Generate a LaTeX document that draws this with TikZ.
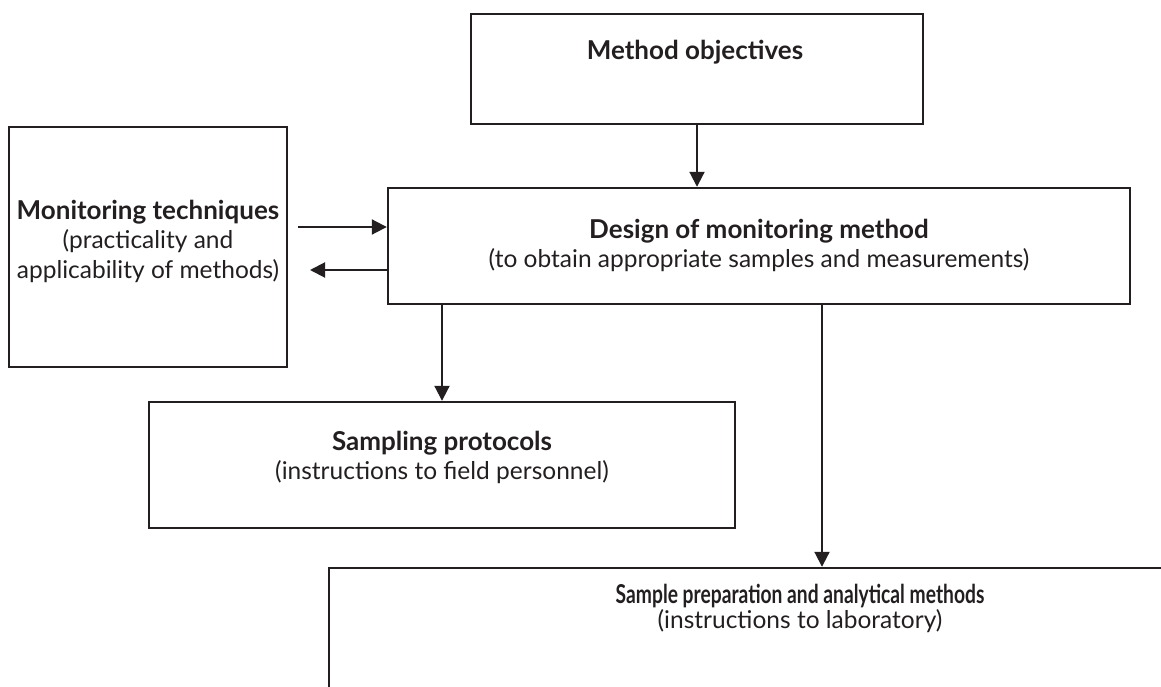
\documentclass[tikz,border=0pt]{standalone}
\usepackage{fontspec}
\setmainfont{Lato}
\usetikzlibrary{arrows.meta}
\definecolor{ink}{RGB}{35,31,32}
\newcommand{\boldline}[1]{{\fontsize{26}{29.5}\selectfont\bfseries #1}}
\begin{document}
\begin{tikzpicture}[x=1pt,y=-1pt,
  box/.style={draw=ink, line width=2.4pt, inner sep=0pt},
  txt/.style={text=ink, align=center, inner sep=0pt, font=\fontsize{24.5}{29.5}\selectfont},
  arr/.style={draw=ink, line width=2pt, -{Triangle[length=15pt,width=15pt]}}]
\useasboundingbox (0,0) rectangle (1161,687);
\clip (0,0) rectangle (1161,687);
\node[box, minimum width=452pt, minimum height=110pt] (mo) at (697,69) {};
\node[box, minimum width=278pt, minimum height=240pt] (mon) at (148,247) {};
\node[box, minimum width=742pt, minimum height=116pt] (des) at (759,246) {};
\node[box, minimum width=586pt, minimum height=126pt] (samp) at (442,465) {};
\node[box, minimum width=942pt, minimum height=232pt] (prep) at (800,684) {};
\node[txt] (motxt) at (695,52) {\boldline{Method objectives}};
\node[txt] (montxt) at (148,241) {\boldline{Monitoring techniques}\\(practicality and\\applicability of methods)};
\node[txt] (destxt) at (759,245.5) {\boldline{Design of monitoring method}\\(to obtain appropriate samples and measurements)};
\node[txt] (samptxt) at (442,457.5) {\boldline{Sampling protocols}\\(instructions to field personnel)};
\node[txt, font=\fontsize{24.5}{25}\selectfont] (preptxt) at (800,608) {\scalebox{0.74}[1]{\boldline{Sample preparation and analytical methods}}\\(instructions to laboratory)};
\coordinate (a1) at (298,227);
\coordinate (a2) at (310,270);
\draw[arr] (mo.south) -- (mo.south |- des.north);
\draw[arr] (a1) -- (a1 -| des.west);
\draw[arr] (a2 -| des.west) -- (a2);
\draw[arr] (samp.north |- des.south) -- (samp.north);
\draw[arr] (822,0 |- des.south) -- (822,0 |- prep.north);
\end{tikzpicture}
\end{document}
